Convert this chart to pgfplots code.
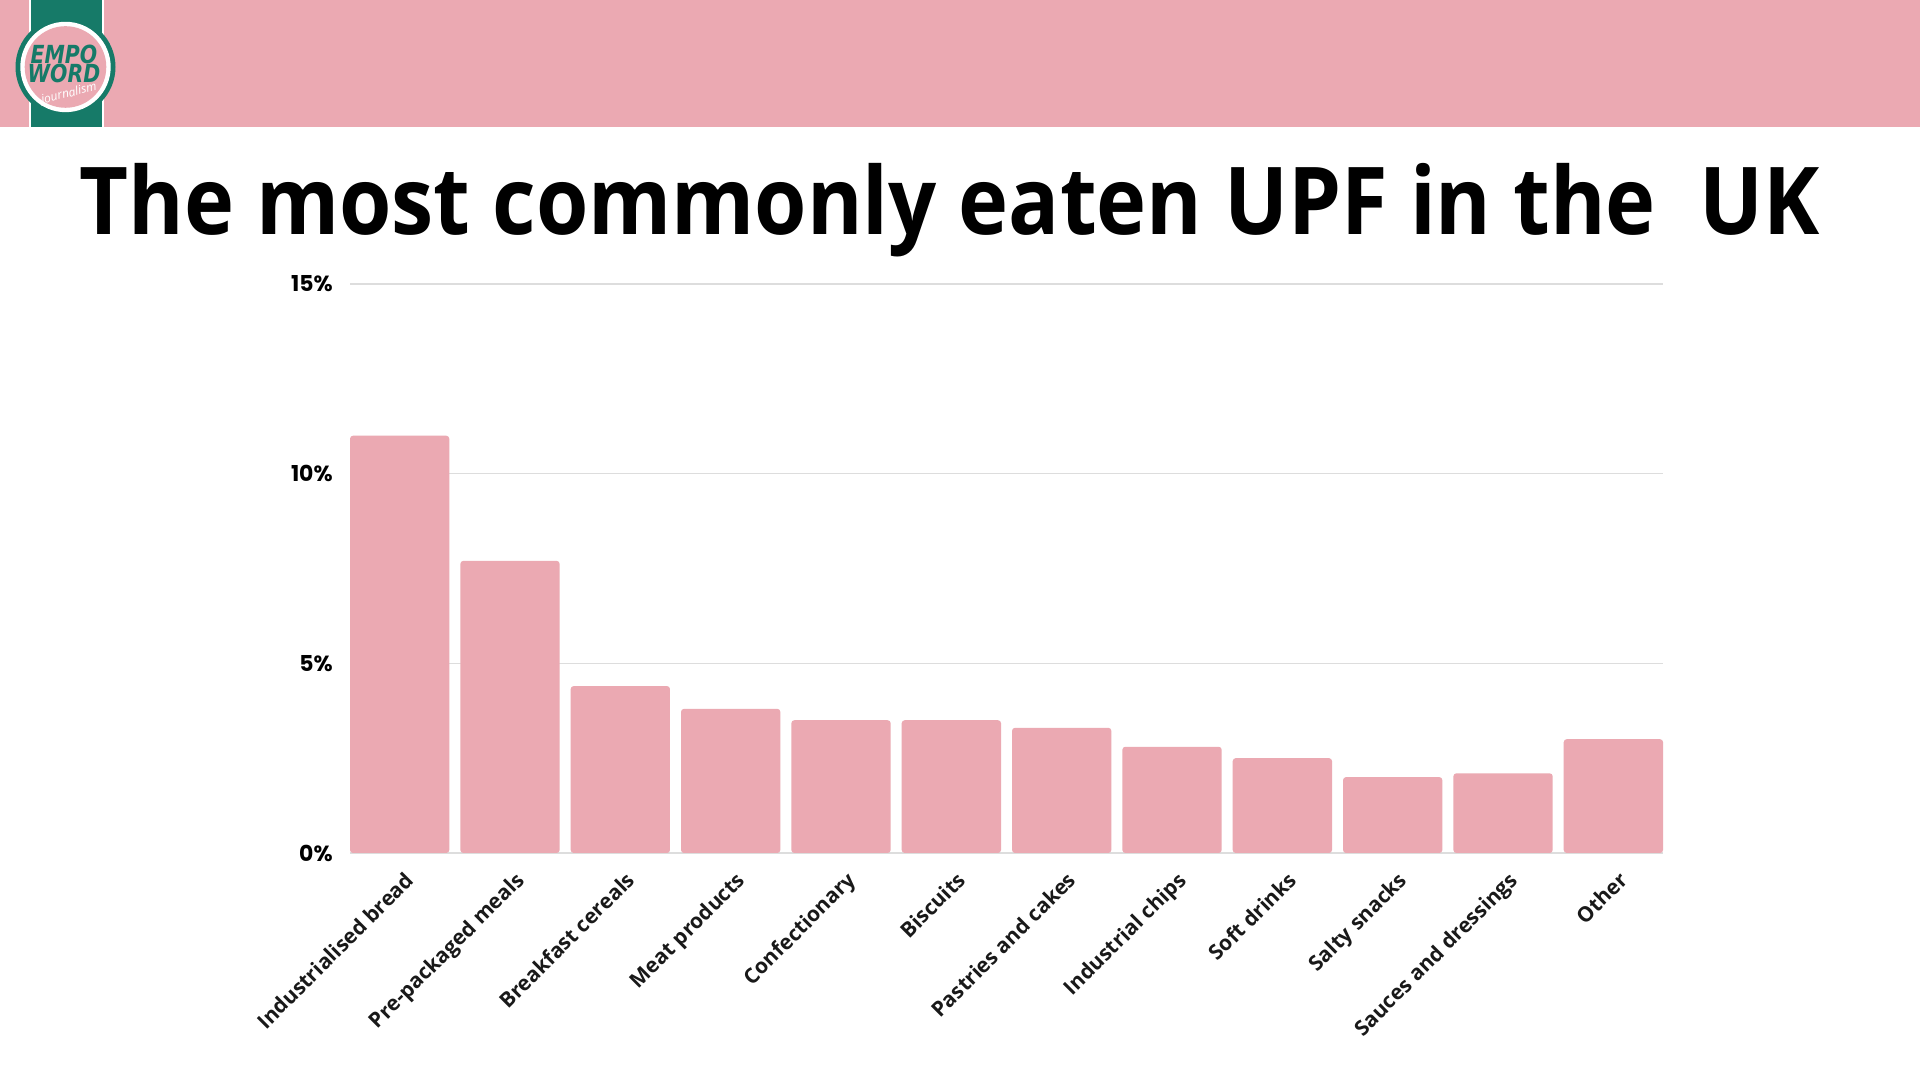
\documentclass[border=0pt]{standalone}
\usepackage{pgfplots}
\pgfplotsset{compat=1.18}
\usepackage{fontspec}
\setmainfont{Open Sans}
\newfontfamily\popfont{Poppins}
\newfontfamily\logofont{DejaVu Sans}
\definecolor{upfpink}{RGB}{235,169,178}
\definecolor{logogreen}{RGB}{22,122,104}
\definecolor{gridgray}{RGB}{221,221,221}
\begin{document}
\begin{tikzpicture}[x=1bp,y=1bp]
\path[use as bounding box, fill=white] (0,0) rectangle (960,540);
% header band and logo
\fill[upfpink] (0,476.3) rectangle (960,540);
\fill[white] (14.5,476.3) rectangle (52,540);
\fill[logogreen] (15.5,476.3) rectangle (51,540);
\fill[logogreen] (32.75,506.5) circle (25);
\fill[white] (32.75,506.5) circle (22.6);
\fill[upfpink] (32.75,506.5) circle (20.4);
\node[logogreen, inner sep=0, xscale=0.82, font=\logofont\bfseries\itshape\fontsize{12.5}{13}\selectfont] at (32,513) {EMPO};
\node[logogreen, inner sep=0, xscale=0.82, font=\logofont\bfseries\itshape\fontsize{12.5}{13}\selectfont] at (32,503.5) {WORD};
\node[white, inner sep=0, rotate=14, font=\itshape\fontsize{6}{7}\selectfont] at (34.5,493) {journalism};
% title
\node[anchor=base, inner sep=0, xscale=0.904, font=\bfseries\fontsize{47}{52}\selectfont] at (475,422.5) {The most commonly eaten UPF in the\ \ UK};
\begin{axis}[
  at={(175bp,113.5bp)}, anchor=south west,
  scale only axis, width=656.5bp, height=284.5bp,
  xmin=-0.45, xmax=11.45, ymin=0, ymax=15,
  axis line style={draw=none},
  ymajorgrids, grid style={gridgray, line width=0.6bp},
  major tick length=0pt,
  ytick={0,5,10,15},
  yticklabels={0\%,5\%,10\%,15\%},
  yticklabel style={font=\popfont\bfseries\fontsize{11}{12}\selectfont, inner sep=0pt, anchor=east, xshift=-8.5bp},
  xtick={0,...,11},
  xticklabels={Industrialised bread,Pre-packaged meals,Breakfast cereals,Meat products,Confectionary,Biscuits,Pastries and cakes,Industrial chips,Soft drinks,Salty snacks,Sauces and dressings,Other},
  xticklabel style={font=\bfseries\fontsize{10.5}{11}\selectfont, color=black!90, inner sep=0pt, anchor=north east, rotate=45, xshift=-4.5bp, yshift=-7.5bp},
  ybar, bar width=0.9, bar shift=0pt,
  clip=false,
]
\addplot[fill=upfpink, draw=none, rounded corners=1.5bp] coordinates {
(0,11.0) (1,7.7) (2,4.4) (3,3.8) (4,3.5) (5,3.5) (6,3.3) (7,2.8) (8,2.5) (9,2.0) (10,2.1) (11,3.0)
};
\end{axis}
\end{tikzpicture}
\end{document}
